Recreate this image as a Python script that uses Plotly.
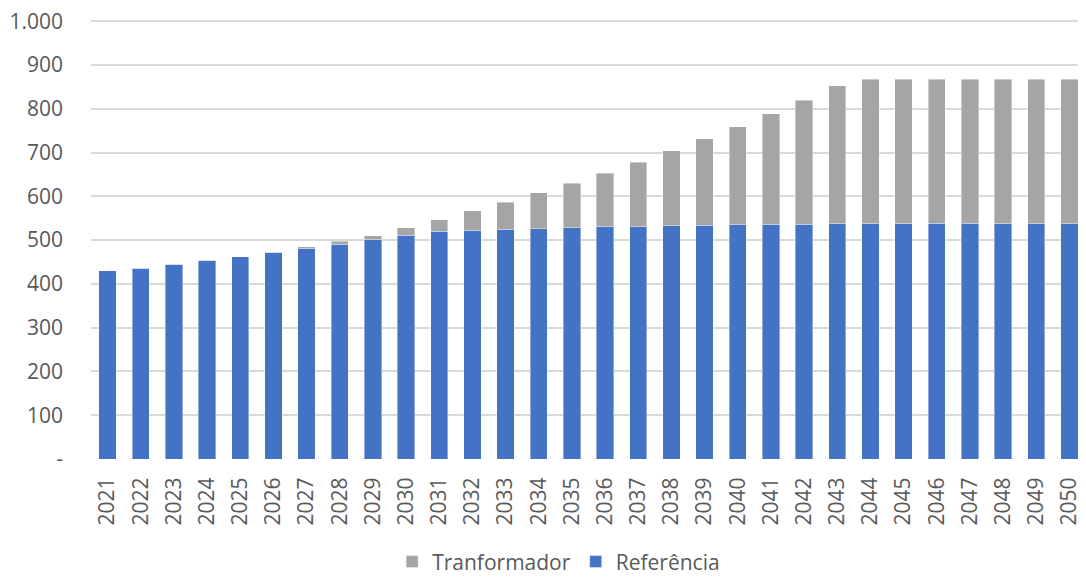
import plotly.graph_objects as go

years = [str(y) for y in range(2021, 2051)]
referencia = [430, 436, 445, 454, 462, 472, 481, 491, 501, 511,
              520, 522, 525, 526, 528, 530, 531, 533, 534, 535,
              536, 536, 537, 537, 537, 538, 538, 537, 537, 537]
total = [430, 436, 445, 454, 462, 472, 485, 497, 510, 528,
         547, 567, 586, 608, 630, 653, 678, 704, 731, 759,
         789, 820, 853, 867, 867, 867, 867, 867, 867, 867]
transformador = [t - r for t, r in zip(total, referencia)]

ytick_vals = [0, 100, 200, 300, 400, 500, 600, 700, 800, 900, 1000]
ytick_text = ["-", "100", "200", "300", "400", "500", "600", "700", "800", "900", "1.000"]

font_family = "Open Sans"
text_color = "#595959"

fig = go.Figure()
fig.add_trace(go.Bar(x=years, y=referencia, name="Referência",
                     marker=dict(color="#4472C4", line=dict(width=0.8, color="rgba(255,255,255,0.5)"))))
fig.add_trace(go.Bar(x=years, y=transformador, name="Tranformador",
                     marker=dict(color="#A5A5A5", line=dict(width=0.8, color="rgba(255,255,255,0.5)"))))

fig.update_layout(
    barmode="stack",
    bargap=0.48,
    width=1078, height=571,
    margin=dict(l=83, r=0, t=11, b=120, autoexpand=False),
    plot_bgcolor="white", paper_bgcolor="white",
    font=dict(family=font_family, size=21, color=text_color),
    showlegend=True,
    legend=dict(orientation="h", x=0.47, xanchor="center", y=-0.234, yanchor="middle",
                traceorder="reversed", font=dict(size=21, color=text_color),
                itemwidth=30),
    xaxis=dict(tickangle=-90, showgrid=False, showline=False,
               ticks="outside", ticklen=9, tickcolor="rgba(0,0,0,0)",
               automargin=False,
               tickfont=dict(size=21, color=text_color)),
    yaxis=dict(range=[0, 1005], tickvals=ytick_vals, ticktext=ytick_text,
               showgrid=True, gridcolor="#D9D9D9", gridwidth=1.5,
               zeroline=False, showline=False, ticks="", ticklabelstandoff=27,
               ticklabeloverflow="allow",
               automargin=False, tickfont=dict(size=21, color=text_color)),
)

fig.write_html("out.html")
